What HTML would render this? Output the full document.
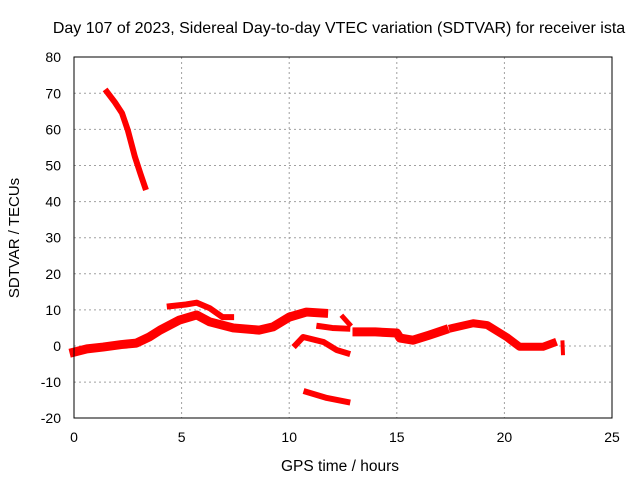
<!DOCTYPE html>
<html><head><meta charset="utf-8"><style>
body{margin:0;background:#fff}
svg{display:block;font-family:"Liberation Sans",sans-serif}
</style></head><body>
<svg id="chart" width="640" height="480">
<rect width="640" height="480" fill="#fff"/>
<text x="339" y="33" font-size="16" text-anchor="middle">Day 107 of 2023, Sidereal Day-to-day VTEC variation (SDTVAR) for receiver ista</text>
<text transform="translate(19,238) rotate(-90)" font-size="15" text-anchor="middle">SDTVAR / TECUs</text>
<text x="340" y="471" font-size="15.5" text-anchor="middle">GPS time / hours</text>
<g id="grid"></g><g id="series"></g><g id="axes"></g>
</svg>
<script>
const xTicks=[0,5,10,15,20,25];
const yTicks=[-20,-10,0,10,20,30,40,50,60,70,80];
const seg1=[[1.53,70.4],[1.9,67.5],[2.23,64.5],[2.5,59.8],[2.83,52.4],[3.1,47.5],[3.3,44]];
const segMain=[[0,-1.7],[0.6,-0.8],[1.35,-0.3],[2.2,0.4],[2.9,0.8],[3.5,2.5],[4.0,4.4],[4.9,7.2],[5.7,8.6],[6.3,6.7],[7.4,5.0],[8.6,4.4],[9.25,5.3],[10.0,8.0],[10.8,9.4],[11.6,9.1]];
const segUpper=[[4.45,11],[5.2,11.5],[5.7,12],[6.3,10.5],[6.9,8],[7.3,8]];
const segMid=[[11.4,5.5],[12.0,5.0],[12.7,4.8]];
const segSmall=[[12.5,8],[12.8,6]];
const segLow=[[10.3,0.3],[10.65,2.5],[11.6,1.1],[12.2,-1.1],[12.7,-2]];
const segBottom=[[10.8,-12.7],[11.75,-14.4],[12.7,-15.5]];
const segLate=[[13.15,3.9],[14.0,3.9],[15.0,3.6],[15.15,2.2],[15.75,1.6],[16.5,3],[17.2,4.4]];
const segEvening=[[17.6,5],[18.55,6.3],[19.2,5.8],[20.1,2.5],[20.7,-0.2],[21.8,-0.2],[22.25,0.8]];
const segEnd=[[22.7,1],[22.72,-2]];
const X=h=>74+h*21.52, Y=v=>346-v*3.61;
const ns="http://www.w3.org/2000/svg";
const grid=document.getElementById('grid'),axes=document.getElementById('axes'),ser=document.getElementById('series');
function mk(tag,a,p){const e=document.createElementNS(ns,tag);for(const k in a)e.setAttribute(k,a[k]);p.appendChild(e);return e;}
xTicks.forEach(t=>{
 if(t>0&&t<25){const g=mk('line',{x1:X(t),x2:X(t),y1:57,y2:418,stroke:'#a0a0a0','stroke-dasharray':'2,3'},grid);
 
 }
 const l=mk('text',{x:X(t),y:442,'font-size':14,'text-anchor':'middle'},axes);l.textContent=t;
 
 
});
yTicks.forEach(t=>{
 if(t>-20&&t<80){const g=mk('line',{x1:74,x2:612,y1:Y(t),y2:Y(t),stroke:'#a0a0a0','stroke-dasharray':'2,3'},grid);
 
 }
 const l=mk('text',{x:61,y:Y(t)+5,'font-size':14,'text-anchor':'end'},axes);l.textContent=t;
 
 
});
const fr=mk('rect',{x:74,y:57,width:538,height:361,fill:'none',stroke:'#000','stroke-width':1},axes);


[[seg1,6],[segMain,9],[segUpper,6],[segMid,6],[segSmall,5],[segLow,6],[segBottom,6],[segLate,9],[segEvening,8],[segEnd,4]].forEach(([s,w])=>{
 const p=mk('polyline',{points:s.map(d=>X(d[0])+','+Y(d[1])).join(' '),fill:'none',stroke:'#ff0000','stroke-width':w,'stroke-linejoin':'round','stroke-linecap':'square'},ser);
 
 
});
</script>
</body></html>
